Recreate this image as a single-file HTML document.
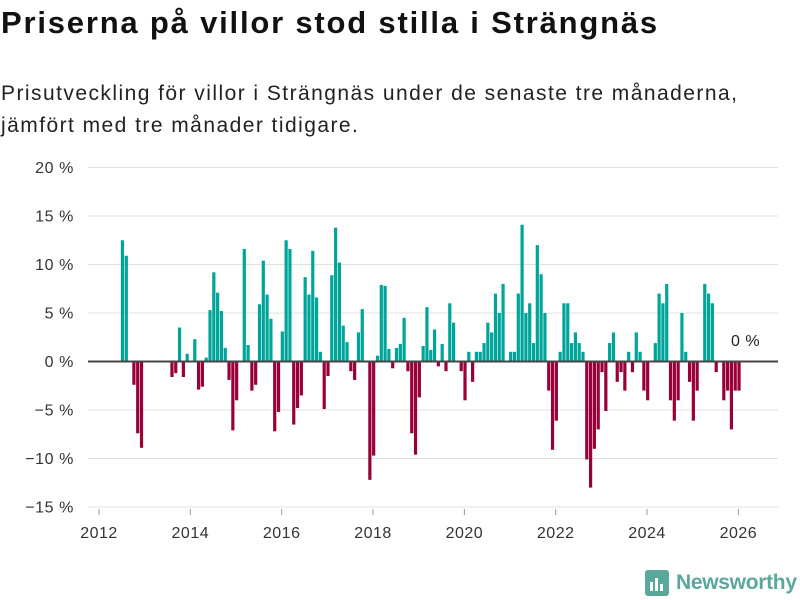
<!DOCTYPE html>
<html><head><meta charset="utf-8"><style>
body{margin:0;width:800px;height:600px;background:#fff;font-family:"Liberation Sans",sans-serif;overflow:hidden;position:relative;color:#111}
h1{position:absolute;left:1px;top:5px;margin:0;font-size:31px;font-weight:bold;letter-spacing:1.8px}
.sub{position:absolute;left:1px;top:78px;margin:0;font-size:21px;line-height:32px;color:#222;letter-spacing:1.45px}
svg{position:absolute;left:0;top:0}
</style></head><body>
<h1>Priserna på villor stod stilla i Strängnäs</h1>
<p class="sub">Prisutveckling för villor i Strängnäs under de senaste tre månaderna,<br>jämfört med tre månader tidigare.</p>
<svg id="chart" width="800" height="600"></svg>
<script>
const values = [0,0,0,0,0,0,12.5,10.9,0,-2.4,-7.4,-8.9,0,0,0,0,0,0,0,-1.6,-1.2,3.5,-1.6,0.8,0,2.3,-2.9,-2.6,0.4,5.3,9.2,7.1,5.2,1.4,-1.9,-7.1,-4.0,0,11.6,1.7,-3.0,-2.4,5.9,10.4,6.9,4.4,-7.2,-5.2,3.1,12.5,11.6,-6.5,-4.8,-3.5,8.7,6.9,11.4,6.6,1.0,-4.9,-1.5,8.9,13.8,10.2,3.7,2.0,-1.0,-1.9,3.0,5.4,0,-12.2,-9.7,0.6,7.9,7.8,1.3,-0.7,1.4,1.8,4.5,-1.0,-7.4,-9.6,-3.7,1.6,5.6,1.2,3.3,-0.5,1.8,-1.0,6.0,4.0,0,-1.0,-4.0,1.0,-2.1,1.0,1.0,1.9,4.0,3.0,7.0,5.0,8.0,0,1.0,1.0,7.0,14.1,5.0,6.0,1.9,12.0,9.0,5.0,-3.0,-9.1,-6.1,1.0,6.0,6.0,1.9,3.0,1.9,1.0,-10.1,-13.0,-9.0,-7.0,-1.1,-5.1,1.9,3.0,-2.1,-1.1,-3.0,1.0,-1.1,3.0,1.0,-3.0,-4.0,0,1.9,7.0,6.0,8.0,-4.0,-6.1,-4.0,5.0,1.0,-2.1,-6.1,-3.0,0,8.0,7.0,6.0,-1.1,0,-4.0,-3.0,-7.0,-3.0,-3.0];
const startYear = 2012;
const yTicks = [20,15,10,5,0,-5,-10,-15];
const xTicks = [2012,2014,2016,2018,2020,2022,2024,2026];
const svg = document.getElementById('chart');
const NS = 'http://www.w3.org/2000/svg';
const y = v => 361.5 - v * 9.7;
const xYear = yr => 99 + (yr - 2012) * 45.67;
const xMonth = m => xYear(startYear + (m - 0.25) / 12);
function mk(tag, attrs){const e=document.createElementNS(NS,tag);for(const k in attrs)e.setAttribute(k,attrs[k]);svg.appendChild(e);return e;}
yTicks.forEach(t=>{
  const g=mk('line',{x1:88,x2:778,y1:y(t),y2:y(t),stroke:'#e0e0e0','stroke-width':1});
  
  
  const l=mk('text',{x:74,y:y(t)+5.5,'text-anchor':'end','font-size':16,fill:'#333','font-family':'Liberation Sans, sans-serif','letter-spacing':0.6});
  l.textContent=String(t).replace('-','\u2212')+' %';
  
  
});
xTicks.forEach(t=>{
  const tk=mk('line',{x1:xYear(t),x2:xYear(t),y1:509,y2:515,stroke:'#999','stroke-width':1});
  
  
  const l=mk('text',{x:xYear(t),y:538,'text-anchor':'middle','font-size':16,fill:'#333','font-family':'Liberation Sans, sans-serif','letter-spacing':0.5});
  l.textContent=t;
  
  
});
values.forEach((v,m)=>{
  if(v===0)return;
  const b=mk('rect',{x:xMonth(m),width:3.2,y:Math.min(y(v),y(0)),height:Math.abs(y(v)-y(0)),fill:v>0?'#00a59a':'#990039'});
  
  
});
const z=mk('line',{x1:88,x2:778,y1:y(0),y2:y(0),stroke:'#444','stroke-width':2});


const zl=mk('text',{x:731,y:346,'font-size':16,fill:'#222','font-family':'Liberation Sans, sans-serif','letter-spacing':0.5});
zl.textContent='0 %';


</script>
<svg width="800" height="600" style="pointer-events:none">
  <rect x="645" y="570" width="24" height="26" rx="3" fill="#5aa89c"/>
  <rect x="650" y="582" width="3" height="9" fill="#fff"/><rect x="655" y="578" width="3" height="13" fill="#fff"/><rect x="660" y="584" width="3" height="7" fill="#fff"/>
  <text x="676" y="589" font-size="21" font-weight="bold" fill="#5aa89c" font-family="Liberation Sans, sans-serif" letter-spacing="-0.3">Newsworthy</text>
</svg>
</body></html>
